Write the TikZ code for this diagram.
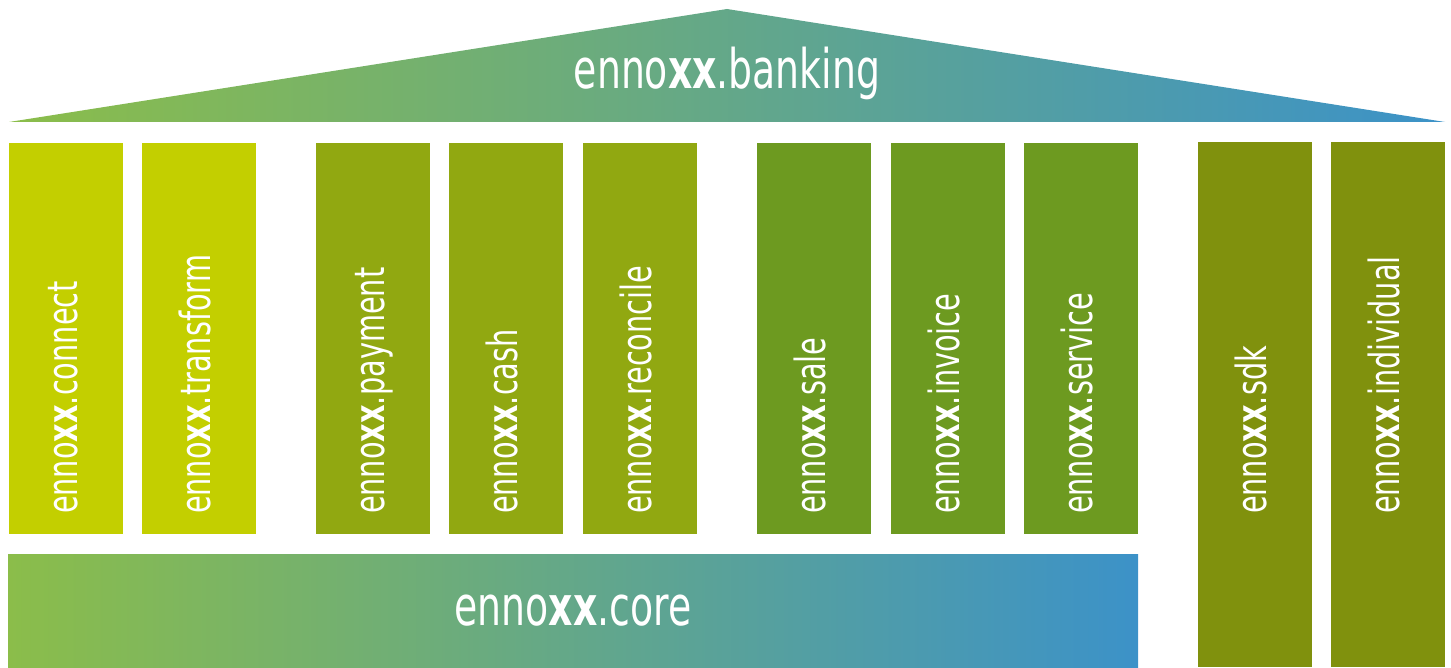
\documentclass[tikz,border=0pt]{standalone}
\usepackage{fontspec}
\setmainfont{DejaVu Sans Condensed}
\usetikzlibrary{calc}
\definecolor{lime}{RGB}{195,207,0}
\definecolor{olivea}{RGB}{145,168,17}
\definecolor{oliveb}{RGB}{109,154,32}
\definecolor{olivec}{RGB}{128,145,13}
\definecolor{gleft}{RGB}{139,189,74}
\definecolor{gright}{RGB}{60,146,200}
\newcommand{\enx}[1]{enno\textbf{xx}.#1}
\tikzset{
  pillar/.style={draw=none, inner sep=0pt, minimum width=114pt, minimum height=391pt},
  tallpillar/.style={pillar, minimum height=525pt},
  plabel/.style={text=white, inner sep=0pt, rotate=90, anchor=base west, font=\fontsize{32}{32}\selectfont, yscale=1.3},
  biglabel/.style={text=white, inner sep=0pt, font=\fontsize{42}{42}\selectfont, yscale=1.3}
}
\begin{document}
\begin{tikzpicture}[x=1pt,y=1pt]
\useasboundingbox (0,0) rectangle (1451,667);
% roof
\shade[left color=gleft, right color=gright] (9,545) -- (727,658) -- (1445,545) -- cycle;
\node[biglabel] (banking) at (727,594) {\enx{banking}};
% base
\node[inner sep=0pt, minimum width=1130pt, minimum height=113pt, left color=gleft, right color=gright] (core) at (573,56.5) {};
\node[biglabel] (coretxt) at (core.center) {\enx{core}};
% pillars
\node[pillar, fill=lime]   (p1) at (66,328.5) {};
\node[pillar, fill=lime]   (p2) at (199,328.5) {};
\node[pillar, fill=olivea] (p3) at (373,328.5) {};
\node[pillar, fill=olivea] (p4) at (506,328.5) {};
\node[pillar, fill=olivea] (p5) at (640,328.5) {};
\node[pillar, fill=oliveb] (p6) at (814,328.5) {};
\node[pillar, fill=oliveb] (p7) at (948,328.5) {};
\node[pillar, fill=oliveb] (p8) at (1081,328.5) {};
\node[tallpillar, fill=olivec] (p9) at (1255,262.5) {};
\node[tallpillar, fill=olivec] (p10) at (1388,262.5) {};
% labels
\node[plabel] (l1) at ($(p1.south)+(11,20)$) {\enx{connect}};
\node[plabel] (l2) at ($(p2.south)+(11,20)$) {\enx{transform}};
\node[plabel] (l3) at ($(p3.south)+(11,20)$) {\enx{payment}};
\node[plabel] (l4) at ($(p4.south)+(11,20)$) {\enx{cash}};
\node[plabel] (l5) at ($(p5.south)+(11,20)$) {\enx{reconcile}};
\node[plabel] (l6) at ($(p6.south)+(11,20)$) {\enx{sale}};
\node[plabel] (l7) at ($(p7.south)+(11,20)$) {\enx{invoice}};
\node[plabel] (l8) at ($(p8.south)+(11,20)$) {\enx{service}};
\node[plabel] (l9) at ($(p9.south)+(11,153)$) {\enx{sdk}};
\node[plabel] (l10) at ($(p10.south)+(11,153)$) {\enx{individual}};
\end{tikzpicture}
\end{document}
